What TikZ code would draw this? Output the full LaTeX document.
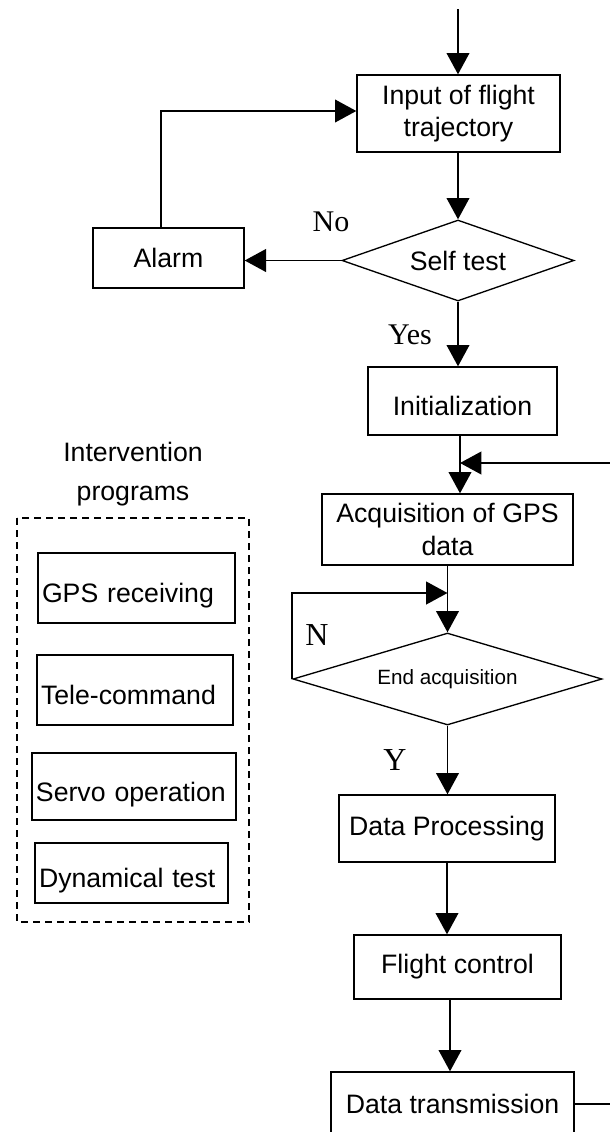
\documentclass[tikz,border=0pt]{standalone}
\usepackage{fontspec}
\setmainfont{Liberation Sans}
\newfontfamily\seriffont{Liberation Serif}
\usetikzlibrary{arrows.meta,shapes.geometric}
\newdimen\px \px=0.75pt
\begin{document}
\begin{tikzpicture}[x=0.75pt,y=-0.75pt,
  box/.style={draw, line width=1pt, inner sep=0pt, align=center, font=\fontsize{20}{24.5}\selectfont},
  dia/.style={draw, diamond, line width=1pt, inner sep=0pt, aspect=3.5},
  arr/.style={line width=1.4pt, -{Triangle[length=16pt,width=17pt]}},
  ln/.style={line width=1.4pt},
  yn/.style={font=\seriffont\fontsize{22.5}{22.5}\selectfont, inner sep=0pt},
  prog/.style={draw, line width=1pt, inner xsep=4\px, inner ysep=0pt, align=left, text height=26pt, text depth=4pt, font=\fontsize{20}{24}\selectfont},
  grp/.style={draw, line width=1pt, dash pattern=on 5.5pt off 3.5pt},
  captxt/.style={font=\fontsize{20}{24}\selectfont, inner sep=0pt, anchor=base}
]
\useasboundingbox (0,0) rectangle (610,1132);
\clip (0,0) rectangle (610,1132);

% main flow nodes
\node[box, minimum width=203\px, minimum height=77\px] (inp) at (458.5,113.5) {Input of flight\\trajectory};
\node[dia, minimum width=232\px, minimum height=81\px, font=\fontsize{20}{24}\selectfont] (st) at (458,260.5) {Self test};
\node[box, minimum width=151\px, minimum height=60\px] (al) at (168.5,258) {Alarm};
\node[box, minimum width=189\px, minimum height=68\px, text height=21pt, text depth=0pt] (ini) at (462.5,401) {Initialization};
\node[box, minimum width=251\px, minimum height=71\px] (acq) at (447.5,529.5) {Acquisition of GPS\\data};
\node[dia, minimum width=309\px, minimum height=92\px, font=\fontsize{15.5}{18}\selectfont] (en) at (447.5,679) {End acquisition};
\node[box, minimum width=216\px, minimum height=67\px] (dp) at (447,828.5) {Data Processing};
\node[box, minimum width=207\px, minimum height=64\px] (fc) at (457.5,967) {Flight control};
\node[box, minimum width=243\px, minimum height=64\px] (dt) at (452.5,1104) {Data transmission};

% labels
\node[yn] (no) at (331,222) {No};
\node[yn] (yes) at (410,335) {Yes};
\node[yn, font=\seriffont\fontsize{24}{24}\selectfont] (nl) at (317,635) {N};
\node[yn, font=\seriffont\fontsize{24}{24}\selectfont] (yl) at (395,760) {Y};

% coordinates for free ends and joints
\coordinate (start) at (458,9);
\coordinate (c1) at (161,111);
\coordinate (j1) at (460,463);
\coordinate (fb) at (610,463);
\coordinate (j2) at (447.5,593);
\coordinate (j3) at (450,1000);

% connectors
\draw[arr] (start) -- (start |- inp.north);
\draw[arr] (inp.south -| st.north) -- (st.north);
\draw[arr] (st.west) -- (st.west -| al.east);
\draw[arr] (al.north -| c1) |- (inp.west |- c1);
\draw[arr] (st.south) -- (st.south |- ini.north);
\draw[arr] (ini.south -| j1) -- (acq.north -| j1);
\draw[arr] (fb) -- (j1);
\draw[arr] (acq.south -| en.north) -- (en.north);
\draw[arr] (en.west) |- (j2);
\draw[arr] (en.south) -- (en.south |- dp.north);
\draw[arr] (dp.south) -- (dp.south |- fc.north);
\draw[arr] (fc.south -| j3) -- (dt.north -| j3);
\draw[ln] (dt.east) -- (dt.east -| fb);

% intervention programs group
\node[captxt] (ip1) at (133,461) {Intervention};
\node[captxt] (ip2) at (133,500) {programs};
\draw[grp] (17,518) rectangle (249,922);
\node[prog, text width=189\px, minimum height=70\px] (gps) at (136.5,588) {GPS receiving};
\node[prog, text width=188\px, minimum height=70\px] (tc) at (135,690) {Tele-command};
\node[prog, text width=196\px, minimum height=67\px] (so) at (134,786.5) {Servo operation};
\node[prog, text width=185\px, minimum height=60\px] (dyn) at (131.5,873) {Dynamical test};
\end{tikzpicture}
\end{document}
